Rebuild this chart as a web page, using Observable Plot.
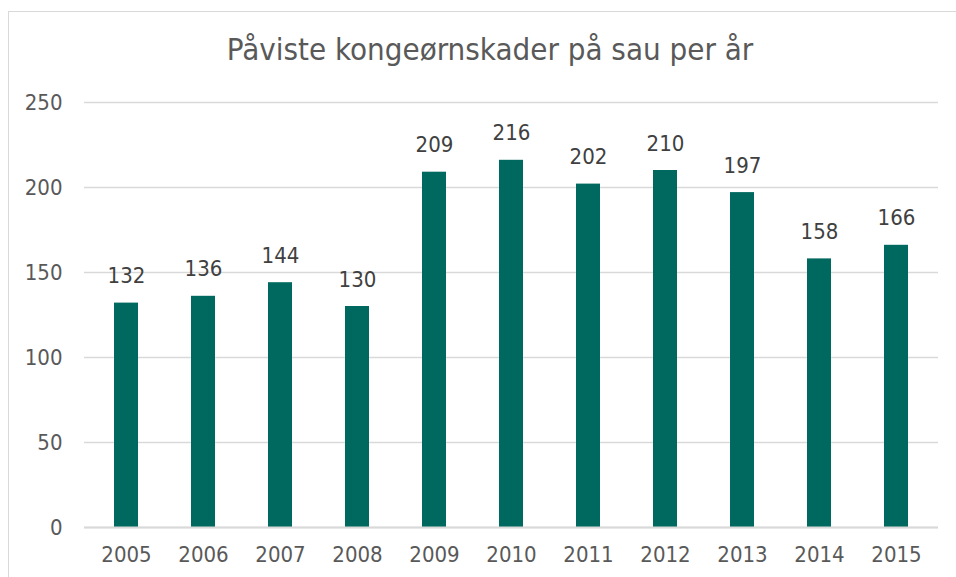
<!DOCTYPE html>
<html><head><meta charset="utf-8">
<script src="https://cdn.jsdelivr.net/npm/d3@7"></script>
<script src="https://cdn.jsdelivr.net/npm/@observablehq/plot@0.6"></script>
<style>
body{margin:0;background:#fff;overflow:hidden;}
#wrap{position:relative;width:956px;height:577px;}
#frame{position:absolute;left:8px;top:11px;width:1000px;height:700px;border:1px solid #d9d9d9;box-sizing:border-box;}
#title{position:absolute;left:0;top:34px;width:980px;text-align:center;font-family:"DejaVu Sans Condensed","DejaVu Sans",sans-serif;font-stretch:condensed;font-size:31px;line-height:1;color:#595959;}
#chart{position:absolute;left:0;top:0;}
</style></head>
<body><div id="wrap"><div id="frame"></div><div id="title">Påviste kongeørnskader på sau per år</div><div id="chart"></div></div>
<script>
const years = ["2005","2006","2007","2008","2009","2010","2011","2012","2013","2014","2015"];
const values = [132,136,144,130,209,216,202,210,197,158,166];
const yTicks = [0,50,100,150,200,250];
const data = years.map((y,i)=>({year:y,value:values[i]}));
const chart = Plot.plot({
  width:956,height:577,
  marginLeft:84,marginRight:18,marginTop:102,marginBottom:50,
  style:{fontFamily:"'DejaVu Sans Condensed', 'DejaVu Sans', sans-serif",fontStretch:"condensed",fontSize:"22px",color:"#595959",background:"transparent"},
  x:{domain:years,paddingInner:0.69,paddingOuter:0.345,label:null,tickSize:0,tickPadding:19},
  y:{domain:[0,250],ticks:yTicks,label:null,tickSize:0,tickPadding:22},
  marks:[
    Plot.ruleY(yTicks,{stroke:"#d9d9d9",strokeWidth:1.3,strokeOpacity:1}),
    Plot.barY(data,{x:"year",y:"value",fill:"#00695F"}),
    Plot.ruleY([0],{stroke:"#d9d9d9",strokeWidth:2}),
    Plot.text(data,{x:"year",y:"value",text:d=>String(d.value),dy:-27,fill:"#404040",fontSize:22})
  ]
});
document.getElementById("chart").appendChild(chart);
</script></body></html>
